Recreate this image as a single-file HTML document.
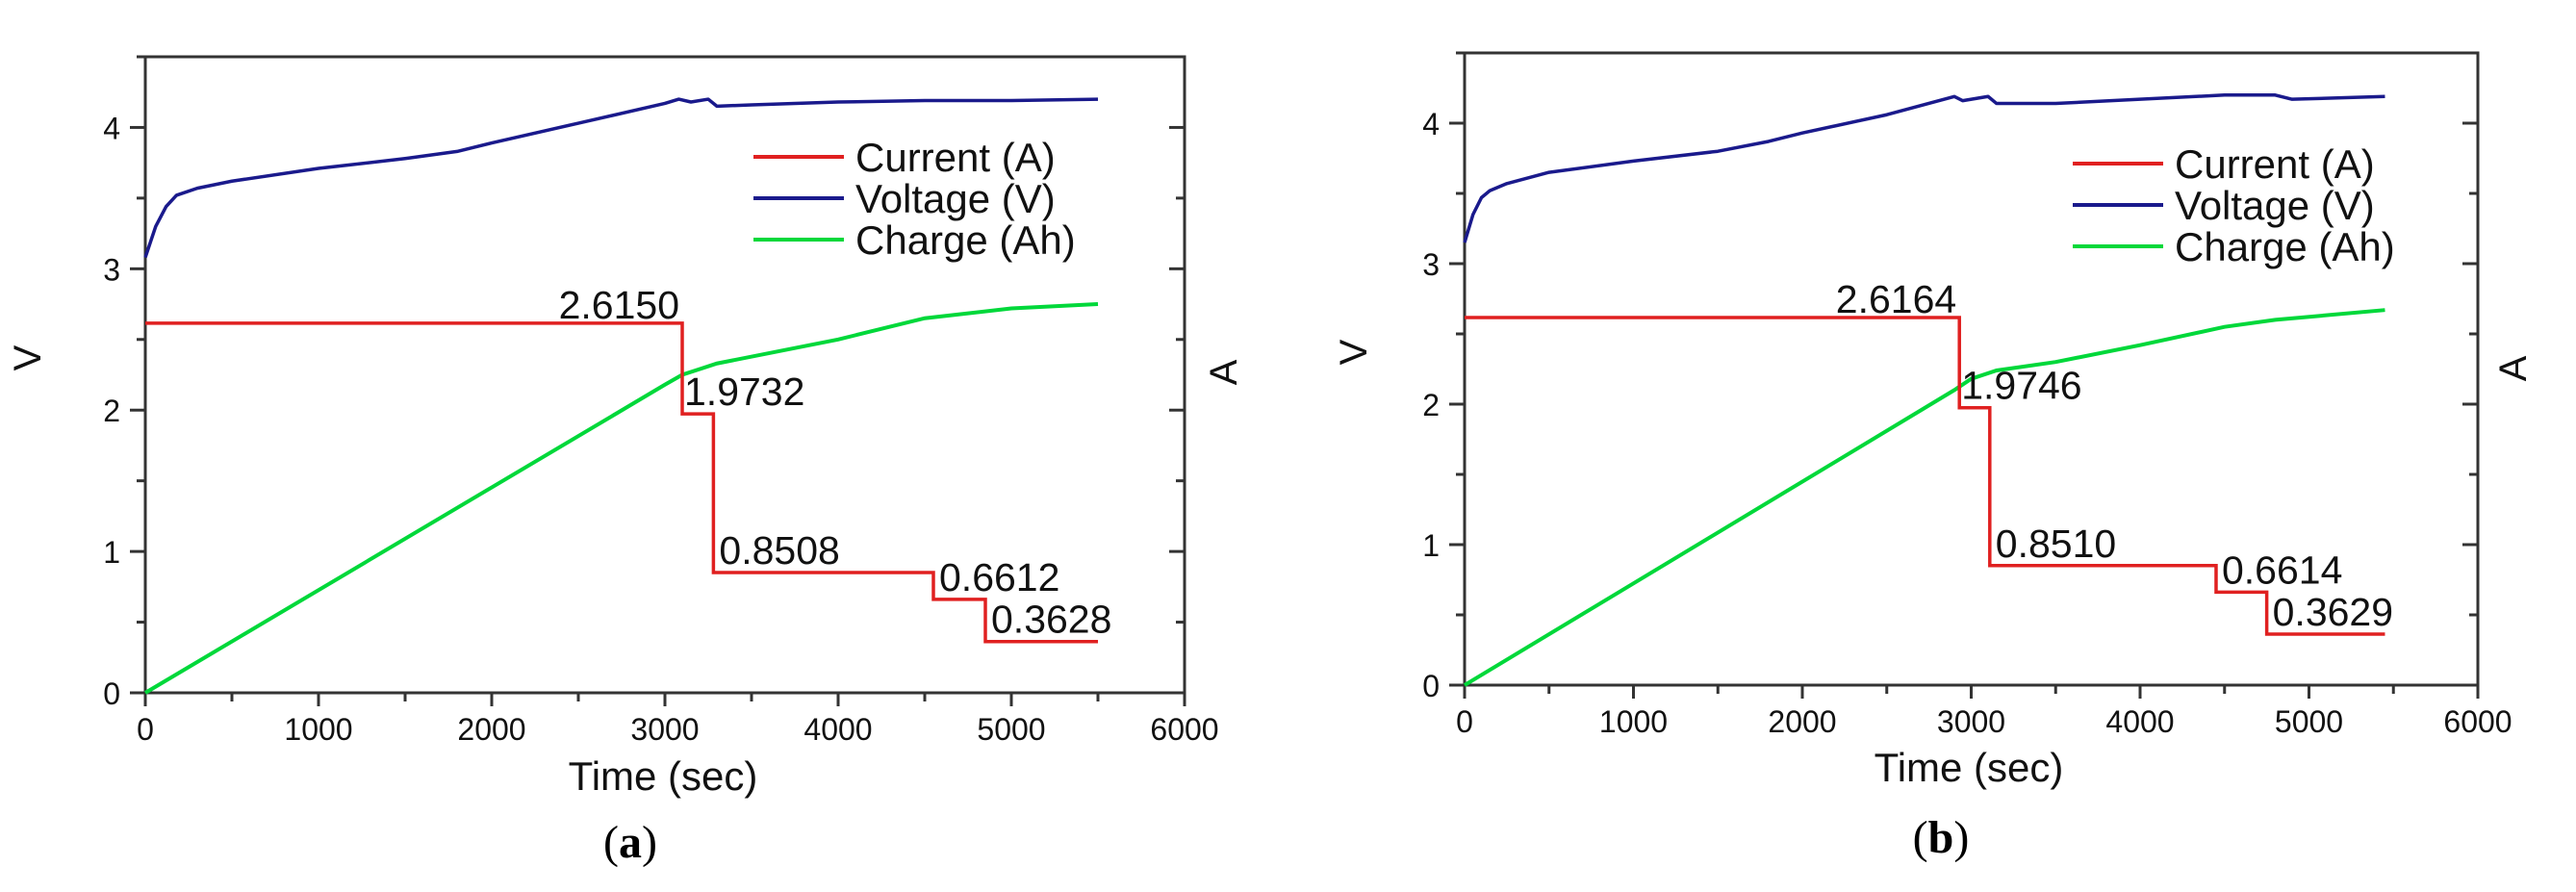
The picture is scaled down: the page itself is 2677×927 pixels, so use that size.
<!DOCTYPE html>
<html><head><meta charset="utf-8"><style>
html,body{margin:0;padding:0;background:#fff;}
svg{display:block;font-family:"Liberation Sans",Arial,sans-serif;}
</style></head><body>
<svg id="fig" width="2677" height="927" viewBox="0 0 2677 927" xmlns="http://www.w3.org/2000/svg"></svg>
<script>
// Panel (a) data
const aCurrentTimes = [0, 3100, 3280, 4550, 4850, 5500];
const aCurrentValues = [2.6150, 1.9732, 0.8508, 0.6612, 0.3628];
const aVoltT = [0,60,120,180,300,500,1000,1500,1800,2000,2500,3000,3080,3150,3250,3300,3500,4000,4500,5000,5500];
const aVoltV = [3.08,3.3,3.44,3.52,3.57,3.62,3.71,3.78,3.83,3.89,4.03,4.17,4.2,4.18,4.2,4.15,4.16,4.18,4.19,4.19,4.2];
const aChgT = [0,3000,3100,3300,4000,4500,5000,5500];
const aChgV = [0,2.18,2.25,2.33,2.5,2.65,2.72,2.75];
// Panel (b) data
const bCurrentTimes = [0, 2930, 3110, 4450, 4750, 5450];
const bCurrentValues = [2.6164, 1.9746, 0.8510, 0.6614, 0.3629];
const bVoltT = [0,50,100,150,250,500,1000,1500,1800,2000,2500,2900,2950,3100,3150,3500,4000,4500,4800,4900,5450];
const bVoltV = [3.15,3.35,3.47,3.52,3.57,3.65,3.73,3.8,3.87,3.93,4.06,4.19,4.16,4.19,4.14,4.14,4.17,4.2,4.2,4.17,4.19];
const bChgT = [0,2900,3000,3150,3500,4000,4500,4800,5450];
const bChgV = [0,2.1,2.18,2.24,2.3,2.42,2.55,2.6,2.67];
const xTicks = [0,1000,2000,3000,4000,5000,6000];
const yTicks = [0,1,2,3,4];
const legendLabels = ["Current (A)","Voltage (V)","Charge (Ah)"];

const NS="http://www.w3.org/2000/svg";
const svg=document.getElementById('fig');
function mk(tag,attrs,parent){const e=document.createElementNS(NS,tag);for(const k in attrs)e.setAttribute(k,attrs[k]);(parent||svg).appendChild(e);return e;}

function panel(id,P,d){
  const g=mk('g',{});
  
  
  const X=t=>P.x0+(P.x1-P.x0)*t/6000;
  const Y=v=>P.y0-(P.y0-P.y1)*v/4.5;
  const ax=mk('path',{d:`M${P.x0},${P.y1}H${P.x1}V${P.y0}H${P.x0}Z`,fill:'none',stroke:'#333','stroke-width':3},g);
  
  
  for(let t=0;t<=6000;t+=500){
    const major=t%1000===0;
    mk('line',{x1:X(t),x2:X(t),y1:P.y0,y2:P.y0+(major?14:9),stroke:'#333','stroke-width':3},g);
  }
  xTicks.forEach(t=>{
    const tx=mk('text',{x:X(t),y:P.y0+49,'font-size':32,'text-anchor':'middle',fill:'#111'},g);
    tx.textContent=t;
    
    
  });
  for(let v=0;v<=4.5;v+=0.5){
    const major=Math.abs(v-Math.round(v))<1e-6;
    mk('line',{x1:P.x0,x2:P.x0-(major?16:9),y1:Y(v),y2:Y(v),stroke:'#333','stroke-width':3},g);
    mk('line',{x1:P.x1,x2:P.x1-(major?16:9),y1:Y(v),y2:Y(v),stroke:'#333','stroke-width':3},g);
  }
  yTicks.forEach(v=>{
    const tx=mk('text',{x:P.x0-26,y:Y(v)+12,'font-size':32,'text-anchor':'end',fill:'#111'},g);
    tx.textContent=v;
    
    
  });
  const pts=(T,V)=>T.map((t,i)=>X(t)+','+Y(V[i])).join(' ');
  const ch=mk('polyline',{points:pts(d.chgT,d.chgV),fill:'none',stroke:'#00d83a','stroke-width':4},g);
  
  
  const vl=mk('polyline',{points:pts(d.voltT,d.voltV),fill:'none',stroke:'#1a1a8c','stroke-width':3.5,'stroke-linejoin':'round'},g);
  
  
  let s='';
  d.curV.forEach((v,i)=>{s+=(i===0?'M':'L')+X(d.curT[i])+','+Y(v)+'H'+X(d.curT[i+1]);});
  const cl=mk('path',{d:s,fill:'none',stroke:'#e02020','stroke-width':3.5},g);
  
  
  d.curV.forEach((v,i)=>{
    const first=i===0;
    const tx=mk('text',{x:first?X(d.curT[1])-3:X(d.curT[i])+(i===1?2:6),y:first?Y(v)-5:Y(v)-9,'font-size':41,'text-anchor':first?'end':'start',fill:'#111'},g);
    tx.textContent=v.toFixed(4);
    
    
  });
  const cols=['#e02020','#1a1a8c','#00d83a'];
  legendLabels.forEach((lab,i)=>{
    const y=P.ly+i*P.lg;
    const ln=mk('line',{x1:P.lx,x2:P.lx+94,y1:y,y2:y,stroke:cols[i],'stroke-width':4},g);
    
    
    const tx=mk('text',{x:P.lx+106,y:y+15,'font-size':42,fill:'#111'},g);
    tx.textContent=lab;
    
    
  });
  const yl=mk('text',{x:P.vx,y:P.vy,'font-size':40,'text-anchor':'middle',transform:`rotate(-90 ${P.vx} ${P.vy})`,fill:'#111'},g);
  yl.textContent='V';
  
  
  const yr=mk('text',{x:P.ax,y:P.ay,'font-size':40,'text-anchor':'middle',transform:`rotate(-90 ${P.ax} ${P.ay})`,fill:'#111'},g);
  yr.textContent='A';
  
  
  const xl=mk('text',{x:P.tx,y:P.ty+14,'font-size':42,'text-anchor':'middle',fill:'#111'},g);
  xl.textContent='Time (sec)';
  
  
  const cap=mk('text',{x:P.cx,y:P.cy+16,'font-size':48,'text-anchor':'middle',fill:'#000','font-family':'"Liberation Serif",serif'},g);
  cap.innerHTML='(<tspan font-weight="bold">'+id+'</tspan>)';
  
  
}
panel('a',{x0:151,x1:1231,y0:720,y1:59,lx:783,ly:163,lg:43,vx:42,vy:372,ax:1285,ay:387,tx:689,ty:807,cx:655,cy:875},
  {curT:aCurrentTimes,curV:aCurrentValues,voltT:aVoltT,voltV:aVoltV,chgT:aChgT,chgV:aChgV});
panel('b',{x0:1522,x1:2575,y0:712,y1:55,lx:2154,ly:170,lg:43,vx:1420,vy:366,ax:2625,ay:383,tx:2046,ty:798,cx:2017,cy:870},
  {curT:bCurrentTimes,curV:bCurrentValues,voltT:bVoltT,voltV:bVoltV,chgT:bChgT,chgV:bChgV});
</script>
</body></html>
